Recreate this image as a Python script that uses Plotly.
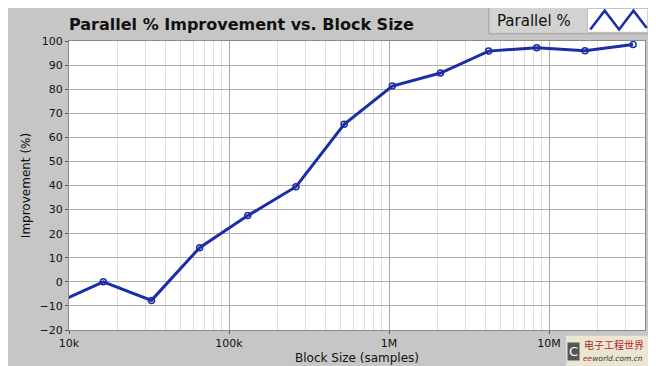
import plotly.graph_objects as go

block_size = [8192, 16384, 32768, 65536, 131072, 262144, 524288, 1048576,
              2097152, 4194304, 8388608, 16777216, 33554432]
improvement = [-9.0, 0.0, -7.7, 14.2, 27.5, 39.5, 65.4, 81.3, 86.7, 95.8, 97.2, 96.0, 98.5]
x_tick_vals = [1e4, 1e5, 1e6, 1e7]
x_tick_text = ["10k", "100k", "1M", "10M"]
x_minor_vals = [m * d for d in (1e4, 1e5, 1e6, 1e7) for m in range(2, 10)]
y_tick_vals = list(range(-20, 101, 10))

BLUE = "#1b2ea6"
BG = "#c6c6c6"
FONT = "DejaVu Sans"

fig = go.Figure()
fig.add_trace(go.Scatter(
    x=block_size, y=improvement, mode="lines+markers", name="Parallel %",
    line=dict(color=BLUE, width=3),
    marker=dict(symbol="circle-open", size=6, color=BLUE, line=dict(width=1.5, color=BLUE)),
    showlegend=False, cliponaxis=True,
))

fig.update_layout(
    width=656, height=366,
    paper_bgcolor=BG, plot_bgcolor="white",
    margin=dict(l=61, r=19, t=33, b=44),
    font=dict(family=FONT, size=11, color="#111111"),
    title=dict(text="Parallel % Improvement vs. Block Size", x=0.093, xanchor="left",
               y=0.955, yanchor="middle",
               font=dict(family=FONT, size=16, color="#111111", weight="bold")),
)
fig.update_xaxes(
    type="log", range=[4, 7.6],
    tickmode="array", tickvals=x_tick_vals, ticktext=x_tick_text,
    ticks="outside", ticklen=3, tickcolor="#555555",
    showgrid=True, gridcolor="#a8a8a8", gridwidth=1,
    minor=dict(tickmode="array", tickvals=x_minor_vals, showgrid=True,
               gridcolor="#dedede", ticks=""),
    showline=True, linecolor="#8a8a8a", mirror=True,
    title=dict(text="Block Size (samples)", font=dict(size=12), standoff=4),
    tickfont=dict(size=11), zeroline=False,
)
fig.update_yaxes(
    range=[-20, 100], tickvals=y_tick_vals,
    ticks="outside", ticklen=3, tickcolor="#555555",
    showgrid=True, gridcolor="#b0b0b0", gridwidth=1,
    showline=True, linecolor="#8a8a8a", mirror=True,
    title=dict(text="Improvement (%)", font=dict(size=12), standoff=6),
    tickfont=dict(size=11), zeroline=False,
)

# Custom legend box (text left, icon right as in the original)
fig.add_shape(type="rect", xref="paper", yref="paper", x0=0.729, x1=1.012, y0=1.025, y1=1.12,
              fillcolor="#d2d2d2", line=dict(color="#a0a0a0", width=1), layer="above")
fig.add_shape(type="rect", xref="paper", yref="paper", x0=0.90, x1=1.005, y0=1.03, y1=1.113,
              fillcolor="white", line=dict(color="#bbbbbb", width=1), layer="above")
fig.add_shape(type="path", xref="paper", yref="paper",
              path="M 0.905 1.04 L 0.93 1.105 L 0.955 1.04 L 0.98 1.105 L 1.003 1.045",
              line=dict(color=BLUE, width=2.5), layer="above")
fig.add_annotation(text="Parallel %", xref="paper", yref="paper", x=0.74, y=1.07,
                   xanchor="left", yanchor="middle", showarrow=False,
                   font=dict(family=FONT, size=15, color="#111111"))

# Watermark
fig.add_shape(type="rect", xref="paper", yref="paper", x0=0.863, x1=1.03, y0=-0.165, y1=-0.02,
              fillcolor="#ebe6d2", line=dict(width=0), layer="above")
fig.add_annotation(text="电子工程世界", xref="paper", yref="paper", x=0.893, y=-0.05,
                   xanchor="left", yanchor="middle", showarrow=False, borderpad=0,
                   font=dict(family="Noto Sans CJK SC", size=10, color="#b0282a"))
fig.add_annotation(text="<i><span style='color:#c0302a'>ee</span>world.com.cn</i>", xref="paper", yref="paper",
                   x=0.891, y=-0.1, xanchor="left", yanchor="middle", showarrow=False, borderpad=0,
                   font=dict(family=FONT, size=7.5, color="#333333"))
fig.add_annotation(text="C", xref="paper", yref="paper", x=0.875, y=-0.075,
                   xanchor="center", yanchor="middle", showarrow=False,
                   bgcolor="#555555", font=dict(family=FONT, size=13, color="white"))

fig.write_html("out.html")
